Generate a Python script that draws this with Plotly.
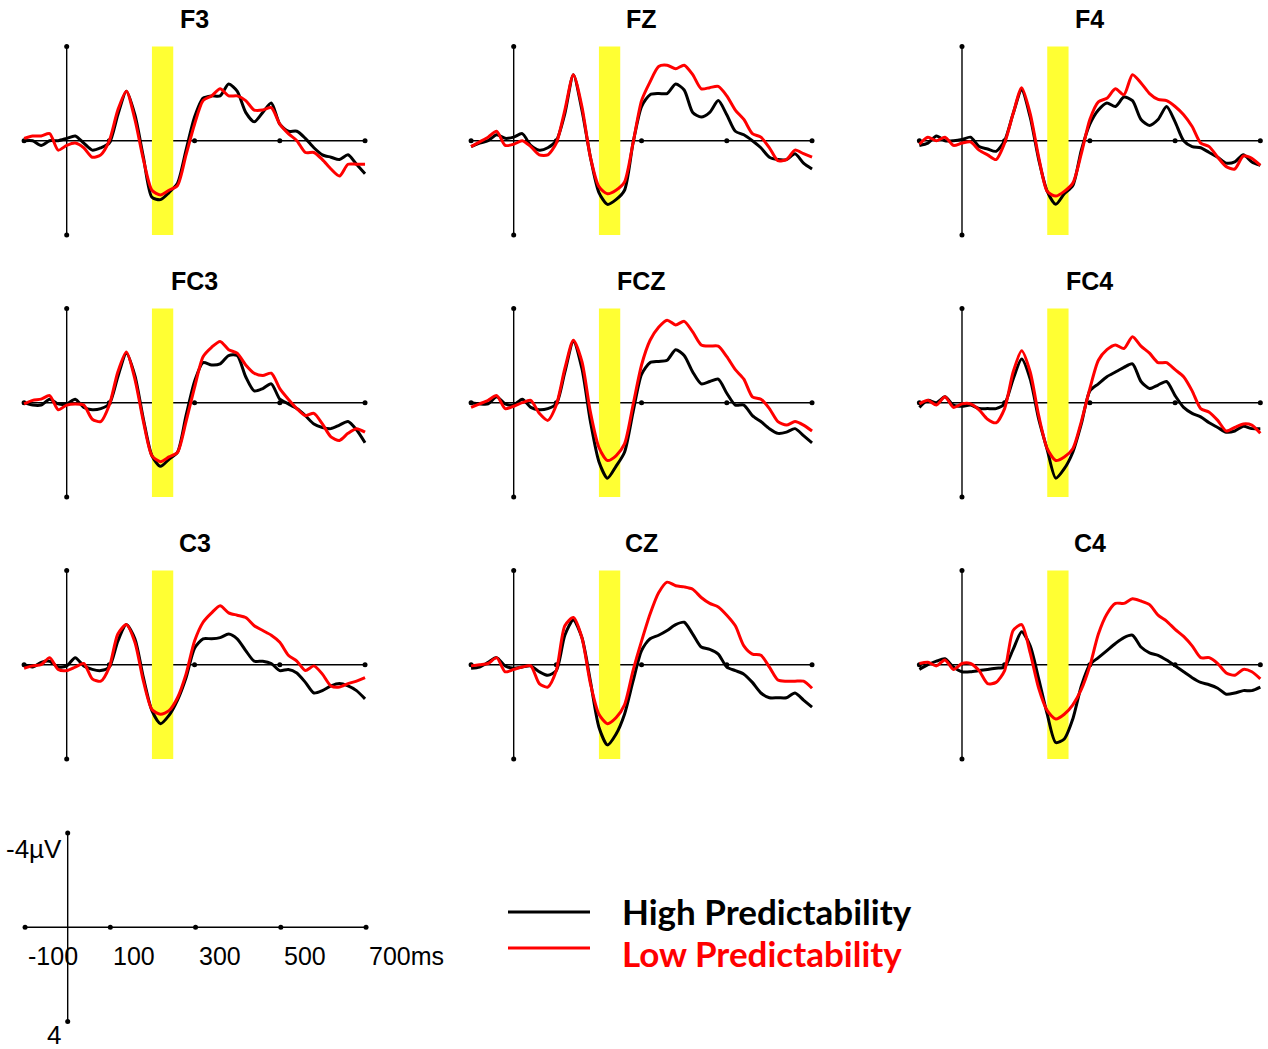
import plotly.graph_objects as go

# ---------------- data ----------------
TIME_MS = [-100, -80, -60, -40, -20, 0, 20, 40, 60, 80, 100,
           120, 140, 160, 180, 200, 220, 240, 260, 280, 300,
           320, 340, 360, 380, 400, 420, 440, 460, 480, 500,
           520, 540, 560, 580, 600, 620, 640, 660, 680, 700]

CHANNELS = ["F3", "FZ", "F4", "FC3", "FCZ", "FC4", "C3", "CZ", "C4"]

F3_HIGH = [0, 0, 0.2, 0, 0, -0.1, -0.2, 0.1, 0.4, 0.3, 0.1,
           -1.1, -2.1, -1.1, 0.7, 2.4, 2.5, 2.2, 1.8, 0.4, -1.0,
           -1.8, -1.9, -1.9, -2.4, -2.1, -1.2, -0.8, -1.2, -1.6, -0.7,
           -0.4, -0.4, -0.1, 0.3, 0.6, 0.7, 0.8, 0.6, 1.0, 1.4]
F3_LOW = [-0.1, -0.2, -0.2, -0.3, 0.4, 0.2, 0.1, 0.3, 0.7, 0.6, 0,
          -1.3, -2.1, -0.9, 0.8, 2.1, 2.3, 2.1, 1.9, 0.6, -0.7,
          -1.7, -1.9, -2.2, -1.9, -1.9, -1.7, -1.3, -1.3, -1.4, -0.7,
          -0.3, 0, 0.5, 0.5, 0.8, 1.2, 1.5, 1.0, 1.0, 1.0]

FZ_HIGH = [0.25, 0.1, 0, -0.25, -0.1, -0.15, -0.3, 0.2, 0.4, 0.3, 0,
           -1.15, -2.8, -1.3, 0.7, 2.2, 2.7, 2.5, 2.1, 0.1, -1.45,
           -1.95, -2.0, -2.0, -2.4, -2.15, -1.2, -1.0, -1.2, -1.7, -1.1,
           -0.4, -0.25, 0, 0.3, 0.7, 0.8, 0.8, 0.55, 0.95, 1.2]
FZ_LOW = [0.25, 0.05, -0.15, -0.4, 0.2, 0.15, 0, 0.25, 0.6, 0.6, 0.1,
          -1.3, -2.8, -1.45, 0.7, 1.95, 2.25, 2.1, 1.75, 0.1, -1.7,
          -2.5, -3.15, -3.2, -3.05, -3.2, -2.8, -2.2, -2.25, -2.3, -1.9,
          -1.3, -0.9, -0.3, -0.15, 0.3, 0.85, 0.8, 0.4, 0.55, 0.7]

F4_HIGH = [0.2, 0.1, -0.2, 0, 0, -0.05, -0.15, 0.25, 0.35, 0.45, 0,
           -1.15, -2.15, -1.0, 0.8, 2.15, 2.7, 2.25, 1.9, 0.4, -0.7,
           -1.3, -1.6, -1.45, -1.85, -1.7, -0.9, -0.65, -0.9, -1.45, -0.8,
           0, 0.25, 0.3, 0.5, 0.7, 0.95, 0.9, 0.6, 0.9, 1.05]
F4_LOW = [0.15, -0.15, 0, -0.15, 0.2, 0.1, 0.05, 0.4, 0.6, 0.8, 0.1,
          -1.15, -2.25, -1.15, 0.7, 2.15, 2.35, 2.15, 1.8, 0.55, -0.9,
          -1.65, -1.8, -2.2, -1.95, -2.8, -2.45, -2.0, -1.75, -1.7, -1.45,
          -1.1, -0.6, 0.1, 0.25, 0.7, 1.1, 1.2, 0.65, 0.75, 1.05]

FC3_HIGH = [0, 0.1, 0.1, -0.15, 0.05, 0.05, -0.15, 0.2, 0.3, 0.25, 0.05,
            -1.1, -2.1, -1.15, 0.7, 2.25, 2.7, 2.4, 2.1, 0.55, -0.9,
            -1.7, -1.6, -1.65, -2.0, -2.0, -1.1, -0.5, -0.6, -0.8, -0.15,
            0.05, 0.25, 0.55, 0.9, 1.05, 1.1, 0.95, 0.8, 1.15, 1.7]
FC3_LOW = [0.05, -0.1, -0.15, -0.3, 0.3, 0.1, 0.05, 0.1, 0.7, 0.8, 0.1,
           -1.3, -2.15, -1.0, 0.8, 2.25, 2.5, 2.3, 2.1, 0.8, -0.65,
           -1.95, -2.35, -2.6, -2.25, -2.1, -1.6, -1.25, -1.15, -1.25, -0.6,
           -0.15, 0.25, 0.55, 0.45, 0.9, 1.45, 1.6, 1.3, 1.1, 1.25]

FCZ_HIGH = [0, 0.05, 0.05, -0.25, 0.05, 0.1, -0.15, 0.2, 0.3, 0.25, 0.05,
            -1.3, -2.6, -1.45, 0.8, 2.5, 3.2, 2.7, 2.1, 0.4, -1.2,
            -1.7, -1.75, -1.8, -2.25, -2.0, -1.3, -0.8, -0.9, -1.0, -0.4,
            0.1, 0.1, 0.55, 0.8, 1.1, 1.3, 1.25, 1.1, 1.4, 1.7]
FCZ_LOW = [0.2, 0.05, -0.1, -0.3, 0.25, 0.15, 0, -0.1, 0.45, 0.75, 0.1,
           -1.45, -2.65, -1.75, 0.4, 1.9, 2.45, 2.25, 1.75, 0.1, -1.6,
           -2.65, -3.2, -3.5, -3.3, -3.45, -3.0, -2.45, -2.4, -2.4, -1.95,
           -1.4, -1.0, -0.25, -0.15, 0.25, 0.8, 0.95, 0.8, 0.95, 1.2]

FC4_HIGH = [0.2, -0.1, 0, -0.25, 0.1, 0.15, 0.1, 0.25, 0.25, 0.25, 0.05,
            -1.0, -1.85, -1.0, 0.7, 2.0, 3.2, 2.8, 2.1, 0.9, -0.5,
            -0.8, -1.1, -1.3, -1.5, -1.65, -0.9, -0.6, -0.75, -0.9, -0.3,
            0.2, 0.45, 0.6, 0.85, 1.05, 1.25, 1.2, 1.0, 1.1, 1.1]
FC4_LOW = [0.05, -0.1, 0.1, -0.25, 0.2, 0.05, 0.05, 0.3, 0.7, 0.85, 0.25,
           -1.3, -2.2, -1.3, 0.55, 1.95, 2.45, 2.3, 1.95, 0.8, -0.6,
           -1.8, -2.25, -2.45, -2.3, -2.8, -2.4, -2.1, -1.7, -1.7, -1.4,
           -1.1, -0.5, 0.25, 0.4, 0.75, 1.2, 1.05, 0.9, 0.95, 1.3]

C3_HIGH = [0, 0.1, -0.1, -0.15, 0.1, 0.05, -0.3, 0.05, 0.2, 0.25, 0.1,
           -1.0, -1.7, -1.1, 0.55, 1.95, 2.5, 2.15, 1.5, 0.55, -0.7,
           -1.1, -1.1, -1.15, -1.3, -1.1, -0.6, -0.15, -0.15, -0.05, 0.25,
           0.2, 0.35, 0.75, 1.2, 1.1, 0.9, 0.8, 0.9, 1.1, 1.45]
C3_LOW = [0.15, 0.05, 0, -0.3, 0.2, 0.25, 0.1, -0.05, 0.6, 0.7, 0.1,
          -1.3, -1.7, -0.95, 0.7, 1.9, 2.1, 1.95, 1.4, 0.4, -1.0,
          -1.8, -2.2, -2.5, -2.2, -2.1, -2.0, -1.65, -1.45, -1.25, -0.95,
          -0.4, -0.15, 0.25, 0.05, 0.4, 0.9, 0.95, 0.8, 0.7, 0.55]

CZ_HIGH = [0.15, 0.1, -0.1, -0.3, 0.05, 0.15, 0.1, 0.05, 0.3, 0.45, 0.25,
           -1.25, -1.9, -1.15, 0.7, 2.65, 3.4, 2.95, 2.1, 0.7, -0.6,
           -1.1, -1.25, -1.45, -1.7, -1.8, -1.3, -0.75, -0.65, -0.45, 0.1,
           0.25, 0.4, 0.75, 1.2, 1.4, 1.4, 1.4, 1.2, 1.5, 1.8]
CZ_LOW = [0.05, 0, -0.05, -0.3, 0.3, 0.2, 0.1, 0.05, 0.8, 0.95, 0.25,
          -1.65, -2.0, -1.15, 0.8, 2.1, 2.5, 2.25, 1.7, 0.25, -1.0,
          -2.15, -3.05, -3.5, -3.35, -3.3, -3.2, -2.85, -2.6, -2.45, -2.1,
          -1.65, -0.8, -0.45, -0.4, 0.1, 0.65, 0.7, 0.7, 0.7, 1.0]

C4_HIGH = [0.2, 0, -0.15, -0.25, 0.1, 0.3, 0.3, 0.25, 0.2, 0.15, 0.1,
           -0.65, -1.4, -0.8, 0.6, 2.1, 3.3, 3.15, 2.3, 0.9, 0,
           -0.3, -0.6, -0.9, -1.15, -1.25, -0.75, -0.5, -0.4, -0.2, 0.05,
           0.3, 0.55, 0.75, 0.85, 1.0, 1.25, 1.2, 1.1, 1.1, 0.95]
C4_LOW = [-0.05, -0.1, 0.05, -0.2, 0.2, -0.05, -0.05, 0.25, 0.8, 0.75, 0.25,
          -1.45, -1.7, -0.5, 1.0, 1.95, 2.3, 2.1, 1.7, 1.05, 0.05,
          -1.3, -2.15, -2.6, -2.6, -2.8, -2.7, -2.55, -2.1, -1.85, -1.5,
          -1.2, -0.8, -0.3, -0.3, -0.05, 0.35, 0.45, 0.2, 0.3, 0.6]

WINDOW_MS = [200, 250]            # highlighted analysis window
TIME_LIMITS_MS = [-100, 700]
AMP_LIMIT_UV = 4
TICKS_MS = [-100, 100, 300, 500, 700]
SCALE_TICK_LABELS = ["-100", "100", "300", "500", "700ms"]
SCALE_Y_LABELS = ["-4\u00b5V", "4"]
CONDITIONS = ["High Predictability", "Low Predictability"]

HIGH = dict(zip(CHANNELS, [F3_HIGH, FZ_HIGH, F4_HIGH, FC3_HIGH, FCZ_HIGH,
                           FC4_HIGH, C3_HIGH, CZ_HIGH, C4_HIGH]))
LOW = dict(zip(CHANNELS, [F3_LOW, FZ_LOW, F4_LOW, FC3_LOW, FCZ_LOW,
                          FC4_LOW, C3_LOW, CZ_LOW, C4_LOW]))

# ---------------- layout geometry (pixels) ----------------
W, H = 1268, 1049
PX_PER_MS = 0.4262
PX_PER_UV = 23.58
COL_ZERO_X = [66.7, 513.7, 962.0]
ROW_ZERO_Y = [140.7, 402.7, 664.7]
SCALE_ZERO = (67.7, 927.3)
PAD_MS = 12
PAD_UV = 0.3
BLACK = "#000000"
RED = "#FF0000"
YELLOW = "#FFFF33"


def px_x(x):
    return x / W


def px_y(y):
    return 1 - y / H


fig = go.Figure()
layout_axes = {}


def add_axes(idx, x0, y0):
    xr = [TIME_LIMITS_MS[0] - PAD_MS, TIME_LIMITS_MS[1] + PAD_MS]
    yr = [AMP_LIMIT_UV + PAD_UV, -AMP_LIMIT_UV - PAD_UV]
    xd = [px_x(x0 + xr[0] * PX_PER_MS), px_x(x0 + xr[1] * PX_PER_MS)]
    yd = [px_y(y0 + yr[0] * PX_PER_UV), px_y(y0 + yr[1] * PX_PER_UV)]
    sfx = "" if idx == 1 else str(idx)
    layout_axes["xaxis" + sfx] = dict(domain=xd, range=xr, visible=False,
                                      fixedrange=True, anchor="y" + sfx)
    layout_axes["yaxis" + sfx] = dict(domain=yd, range=yr, visible=False,
                                      fixedrange=True, anchor="x" + sfx)
    return "x" + sfx, "y" + sfx


def draw_frame(xa, ya):
    # horizontal time axis
    fig.add_trace(go.Scatter(
        x=[TIME_LIMITS_MS[0], TIME_LIMITS_MS[1]], y=[0, 0], mode="lines",
        line=dict(color=BLACK, width=1.4), xaxis=xa, yaxis=ya,
        hoverinfo="skip", showlegend=False))
    fig.add_trace(go.Scatter(
        x=TICKS_MS, y=[0] * len(TICKS_MS), mode="markers",
        marker=dict(color=BLACK, size=5), xaxis=xa, yaxis=ya,
        cliponaxis=False, hoverinfo="skip", showlegend=False))
    # vertical amplitude axis
    fig.add_trace(go.Scatter(
        x=[0, 0], y=[-AMP_LIMIT_UV, AMP_LIMIT_UV], mode="lines+markers",
        line=dict(color=BLACK, width=1.4), marker=dict(color=BLACK, size=5),
        xaxis=xa, yaxis=ya, cliponaxis=False, hoverinfo="skip",
        showlegend=False))


for i, ch in enumerate(CHANNELS):
    r, c = divmod(i, 3)
    xa, ya = add_axes(i + 1, COL_ZERO_X[c], ROW_ZERO_Y[r])
    draw_frame(xa, ya)
    fig.add_trace(go.Scatter(
        x=[WINDOW_MS[0], WINDOW_MS[1], WINDOW_MS[1], WINDOW_MS[0], WINDOW_MS[0]],
        y=[-AMP_LIMIT_UV, -AMP_LIMIT_UV, AMP_LIMIT_UV, AMP_LIMIT_UV, -AMP_LIMIT_UV],
        mode="lines", fill="toself", fillcolor=YELLOW, line=dict(width=0, color=YELLOW),
        xaxis=xa, yaxis=ya, hoverinfo="skip", showlegend=False))
    fig.add_trace(go.Scatter(
        x=TIME_MS, y=HIGH[ch], mode="lines", name=CONDITIONS[0],
        line=dict(color=BLACK, width=3, shape="spline", smoothing=0.7),
        xaxis=xa, yaxis=ya, showlegend=False))
    fig.add_trace(go.Scatter(
        x=TIME_MS, y=LOW[ch], mode="lines", name=CONDITIONS[1],
        line=dict(color=RED, width=3, shape="spline", smoothing=0.7),
        xaxis=xa, yaxis=ya, showlegend=False))
    title_y = ROW_ZERO_Y[r] - AMP_LIMIT_UV * PX_PER_UV - 27
    fig.add_annotation(
        text="<b>%s</b>" % ch, x=(TIME_LIMITS_MS[0] + TIME_LIMITS_MS[1]) / 2,
        xref=xa, y=px_y(title_y), yref="paper", showarrow=False,
        xanchor="center", yanchor="middle",
        font=dict(family="Liberation Sans, Arial", size=25, color=BLACK))

# scale / calibration panel
sx, sy = add_axes(10, SCALE_ZERO[0], SCALE_ZERO[1])
draw_frame(sx, sy)
label_y = px_y(956)
for t, lab in zip(TICKS_MS, SCALE_TICK_LABELS):
    fig.add_annotation(
        text=lab, x=t, xref=sx, y=label_y, yref="paper", showarrow=False,
        xanchor="left", yanchor="middle", xshift=1,
        font=dict(family="Liberation Sans, Arial", size=25, color=BLACK))
fig.add_annotation(
    text=SCALE_Y_LABELS[0], x=0, xref=sx, y=-AMP_LIMIT_UV, yref=sy,
    showarrow=False, xanchor="right", yanchor="middle", xshift=-4, yshift=-16,
    font=dict(family="Liberation Sans, Arial", size=26, color=BLACK))
fig.add_annotation(
    text=SCALE_Y_LABELS[1], x=0, xref=sx, y=AMP_LIMIT_UV, yref=sy,
    showarrow=False, xanchor="right", yanchor="middle", xshift=-5, yshift=-13,
    font=dict(family="Liberation Sans, Arial", size=26, color=BLACK))

# legend drawn manually
LEG_LINE_X = (508, 590)
LEG_ROWS_Y = (912, 948)
LEG_TEXT_Y = (911, 953)
for cond, col, ly, ty in zip(CONDITIONS, [BLACK, RED], LEG_ROWS_Y, LEG_TEXT_Y):
    fig.add_shape(type="line", xref="paper", yref="paper",
                  x0=px_x(LEG_LINE_X[0]), x1=px_x(LEG_LINE_X[1]),
                  y0=px_y(ly), y1=px_y(ly),
                  line=dict(color=col, width=3))
    fig.add_annotation(
        text="<b>%s</b>" % cond, x=px_x(620), xref="paper", y=px_y(ty),
        yref="paper", showarrow=False, xanchor="left", yanchor="middle",
        font=dict(family="Lato, Open Sans, sans-serif", size=35, color=col))

fig.update_layout(
    width=W, height=H, margin=dict(l=0, r=0, t=0, b=0),
    paper_bgcolor="white", plot_bgcolor="rgba(0,0,0,0)",
    showlegend=False, **layout_axes)

fig.write_html("out.html",
               config={"displayModeBar": False, "staticPlot": True},
               post_script="document.body.style.margin='0';"
                           "document.body.style.overflow='hidden';")
